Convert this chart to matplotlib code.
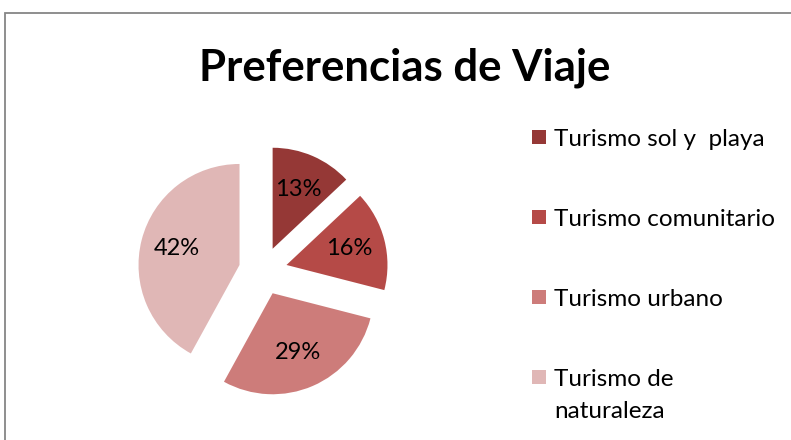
import matplotlib
matplotlib.use("Agg")
import numpy as np
import matplotlib.pyplot as plt
from matplotlib.patches import Rectangle

# data
categories = ["Turismo sol y  playa", "Turismo comunitario", "Turismo urbano", "Turismo de\nnaturaleza"]
shares = [13, 16, 29, 42]
colors = ["#953836", "#B54A47", "#CD7C7A", "#E0B7B6"]

W, H = 791, 440
fig = plt.figure(figsize=(W / 100, H / 100), dpi=100)
plt.rcParams['font.family'] = ['Lato', 'DejaVu Sans']

# chart border (gray frame running off the right/bottom edges)
fig.patches.append(Rectangle((5 / W, -0.05), 1.1, (H - 13) / H + 0.05, transform=fig.transFigure,
                             fill=False, edgecolor="#868686", linewidth=1.3))

fig.text(405 / W, 1 - 68 / H, "Preferencias de Viaje", ha="center", va="center",
         fontsize=31.5, fontweight="bold")

# pie axes: centre ~ (263, 271) px, radius ~101 px
side = 303
ax = fig.add_axes([(263 - side / 2) / W, (H - 271 - side / 2) / H, side / W, side / H])
wedges = ax.pie(shares, colors=colors, startangle=90, counterclock=False,
                explode=[0.24] * len(shares), radius=1.0,
                wedgeprops=dict(linewidth=0))[0]
for w, v in zip(wedges, shares):
    th = np.radians((w.theta1 + w.theta2) / 2)
    cx, cy = w.center
    ax.text(cx + 0.64 * np.cos(th), cy + 0.64 * np.sin(th), f"{v}%",
            ha="center", va="center", fontsize=17)
ax.set_xlim(-1.5, 1.5)
ax.set_ylim(-1.5, 1.5)
ax.set_aspect("equal")
ax.axis("off")

# legend: square swatch aligned with the first line of each label
sq = 14
for i, (lab, col) in enumerate(zip(categories, colors)):
    yc = 137 + 80 * i
    fig.patches.append(Rectangle((532 / W, (H - yc - sq / 2) / H), sq / W, sq / H,
                                 transform=fig.transFigure, facecolor=col, edgecolor="none"))
    fig.text(554 / W, 1 - (yc - 8) / H, lab, ha="left", va="top",
             fontsize=17.5, linespacing=1.65)

fig.savefig("out.png", dpi=100)
